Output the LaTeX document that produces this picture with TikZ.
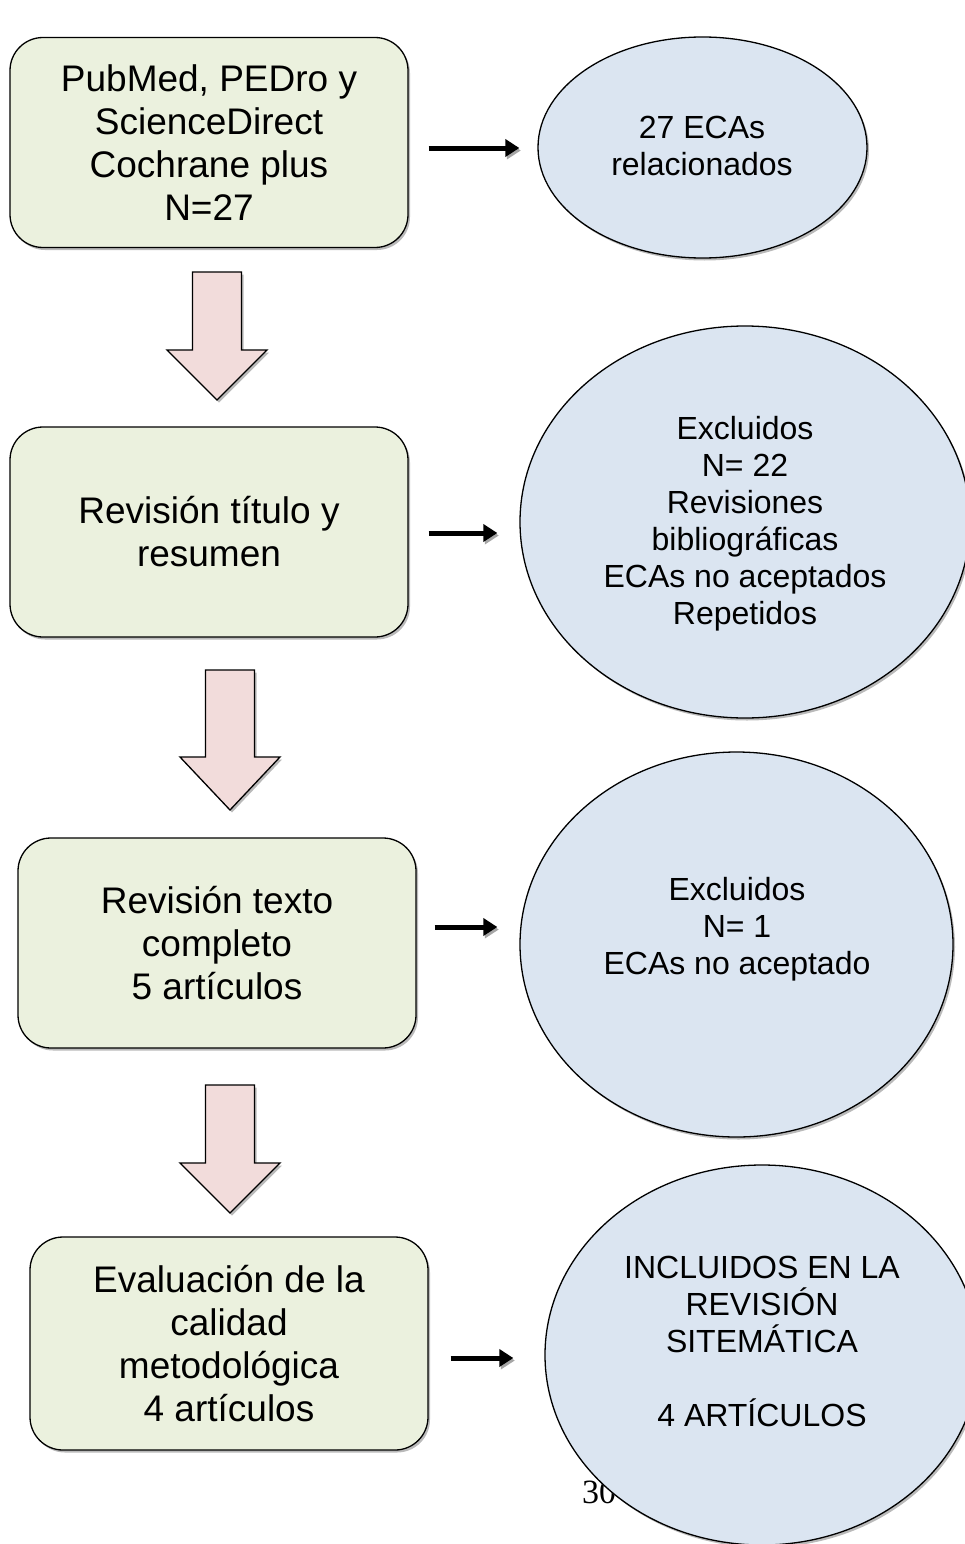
\documentclass[tikz,border=0pt]{standalone}
\usepackage{fontspec}
\setmainfont{Liberation Sans}
\newfontfamily\pagefont{Liberation Serif}
\usetikzlibrary{shapes.geometric, shadows, arrows.meta, calc}
\definecolor{stepgreen}{HTML}{EBF1DE}
\definecolor{resultblue}{HTML}{DBE5F1}
\definecolor{flowpink}{HTML}{F2DCDB}

\begin{document}
\begin{tikzpicture}[
  x=1pt, y=-1pt,
  stage/.style={rectangle, draw=black, line width=1.3pt, fill=stepgreen, rounded corners=33pt, minimum width=398pt, minimum height=210pt, inner sep=0pt, align=center, font=\fontsize{37}{43}\selectfont, drop shadow={shadow xshift=2pt, shadow yshift=-2.5pt, fill=black!45, opacity=0.6}},
  result/.style={ellipse, draw=black, line width=1.3pt, fill=resultblue, inner sep=0pt, drop shadow={shadow xshift=2pt, shadow yshift=-2.5pt, fill=black!45, opacity=0.6}},
  resulttext/.style={align=center, inner sep=0pt, font=\fontsize{32}{37}\selectfont},
  sidearrow/.style={-{Triangle[length=14pt, width=17pt]}, line width=5pt, preaction={draw=black!35, transform canvas={xshift=1.5pt, yshift=-2.5pt}}},
  downarrow/.style={draw=black, line width=1.3pt, fill=flowpink, line join=miter, drop shadow={shadow xshift=2pt, shadow yshift=-2.5pt, fill=black!45, opacity=0.6}}
]
  \clip (0,0) rectangle (965,1544);

  % page number behind the last ellipse
  \node[anchor=base west, inner sep=0pt, font=\pagefont\fontsize{34}{40}\selectfont] (pagenum) at (582,1503) {30};

  \node[stage] (b1) at (209,142.5) {PubMed, PEDro y\\ScienceDirect\\Cochrane plus\\N=27};
  \node[stage] (b2) at (209,532) {Revisión título y\\resumen};
  \node[stage] (b3) at (217,943) {Revisión texto\\completo\\5 artículos};
  \node[stage, minimum height=213pt] (b4) at (229,1343.5) {Evaluación de la\\calidad\\metodológica\\4 artículos};

  \node[result, minimum width=329pt, minimum height=221pt] (e1) at (702.5,147.5) {};
  \node[result, minimum width=450pt, minimum height=392pt] (e2) at (745,522) {};
  \node[result, minimum width=433pt, minimum height=385pt] (e3) at (736.5,944.5) {};
  \node[result, minimum width=434pt, minimum height=380pt] (e4) at (762,1355) {};

  \node[resulttext] (t1) at (702,145.5) {27 ECAs\\relacionados};
  \node[resulttext] (t2) at (745,523.5) {Excluidos\\N= 22\\Revisiones\\bibliográficas\\ECAs no aceptados\\Repetidos};
  \node[resulttext] (t3) at (737,929.5) {Excluidos\\N= 1\\ECAs no aceptado};
  \node[resulttext] (t4) at (762,1341) {INCLUIDOS EN LA\\REVISIÓN\\SITEMÁTICA\\[37pt]4 ARTÍCULOS};

  \draw[sidearrow, shorten <=20pt, shorten >=18pt] ($(b1.east)+(0,5.5)$) -- ($(b1.east -| e1.west)+(0,5.5)$);
  \draw[sidearrow, shorten <=20pt, shorten >=22pt] ($(b2.east)+(0,1)$) -- ($(b2.east -| e2.west)+(0,1)$);
  \draw[sidearrow, shorten <=18pt, shorten >=22pt] ($(b3.east)+(0,-16)$) -- ($(b3.east -| e3.west)+(0,-16)$);
  \draw[sidearrow, shorten <=22pt, shorten >=31pt] ($(b4.east)+(0,14.5)$) -- ($(b4.east -| e4.west)+(0,14.5)$);

  \filldraw[downarrow] (192.5,272) -- (241.5,272) -- (241.5,350) -- (267,350) -- (217,400) -- (167,350) -- (192.5,350) -- cycle;
  \filldraw[downarrow] (205.5,670) -- (254.5,670) -- (254.5,757) -- (280,757) -- (230,810) -- (180,757) -- (205.5,757) -- cycle;
  \filldraw[downarrow] (205.5,1085) -- (254.5,1085) -- (254.5,1163) -- (280,1163) -- (230,1213) -- (180,1163) -- (205.5,1163) -- cycle;
\end{tikzpicture}
\end{document}
